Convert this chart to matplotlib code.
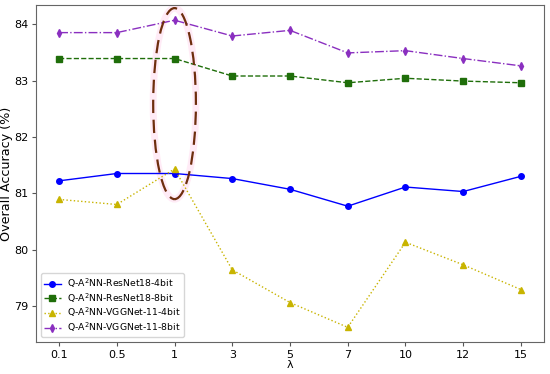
import matplotlib
matplotlib.use("Agg")
import matplotlib.pyplot as plt
from matplotlib.patches import Ellipse

lambdas = ["0.1", "0.5", "1", "3", "5", "7", "10", "12", "15"]
resnet_4bit = [81.22, 81.35, 81.35, 81.26, 81.07, 80.77, 81.11, 81.03, 81.30]
resnet_8bit = [83.39, 83.39, 83.39, 83.08, 83.08, 82.96, 83.04, 82.99, 82.96]
vgg_4bit = [80.89, 80.80, 81.43, 79.64, 79.06, 78.62, 80.13, 79.73, 79.29]
vgg_8bit = [83.85, 83.85, 84.07, 83.79, 83.89, 83.49, 83.53, 83.39, 83.26]

x = list(range(len(lambdas)))

fig = plt.figure(figsize=(5.5, 3.74), dpi=100)
ax = fig.add_axes([36/550, 32/374, 508/550, 337/374])

ax.plot(x, resnet_4bit, color="blue", marker="o", markersize=4, linestyle="-",
        linewidth=1.0, label=r"Q-A$^2$NN-ResNet18-4bit")
ax.plot(x, resnet_8bit, color="#1f6e0a", marker="s", markersize=4, linestyle="--",
        linewidth=1.0, label=r"Q-A$^2$NN-ResNet18-8bit")
ax.plot(x, vgg_4bit, color="#c8b400", marker="^", markersize=4, linestyle=":",
        linewidth=1.0, label=r"Q-A$^2$NN-VGGNet-11-4bit")
ax.plot(x, vgg_8bit, color="#8a2fc0", marker="d", markersize=4, linestyle="-.",
        linewidth=1.0, label=r"Q-A$^2$NN-VGGNet-11-8bit")

# highlight around lambda = 1
ax.add_patch(Ellipse((2, 82.59), 0.74, 3.39, fill=False, edgecolor="#ffd8ee",
                     linewidth=5, alpha=0.5, zorder=1))
ax.add_patch(Ellipse((2, 82.59), 0.74, 3.39, fill=False, edgecolor="#6e2e0e",
                     linewidth=1.6, linestyle=(0, (6, 3)), zorder=5))

ax.set_xticks(x)
ax.set_xticklabels(lambdas)
ax.set_xlim(-0.4, 8.4)
ax.set_ylim(78.36, 84.34)
ax.set_yticks([79, 80, 81, 82, 83, 84])
ax.tick_params(labelsize=8, length=3, pad=2.5, color="#555555")
for s in ax.spines.values():
    s.set_color("#666666")
ax.set_xlabel("λ", fontsize=8, labelpad=0)
ax.set_ylabel("Overall Accuracy (%)", fontsize=9.2, labelpad=1)
ax.legend(loc="lower left", fontsize=6.7, handlelength=1.8, borderpad=0.35,
          labelspacing=0.12, handletextpad=0.7)

fig.savefig("out.png", dpi=100)
